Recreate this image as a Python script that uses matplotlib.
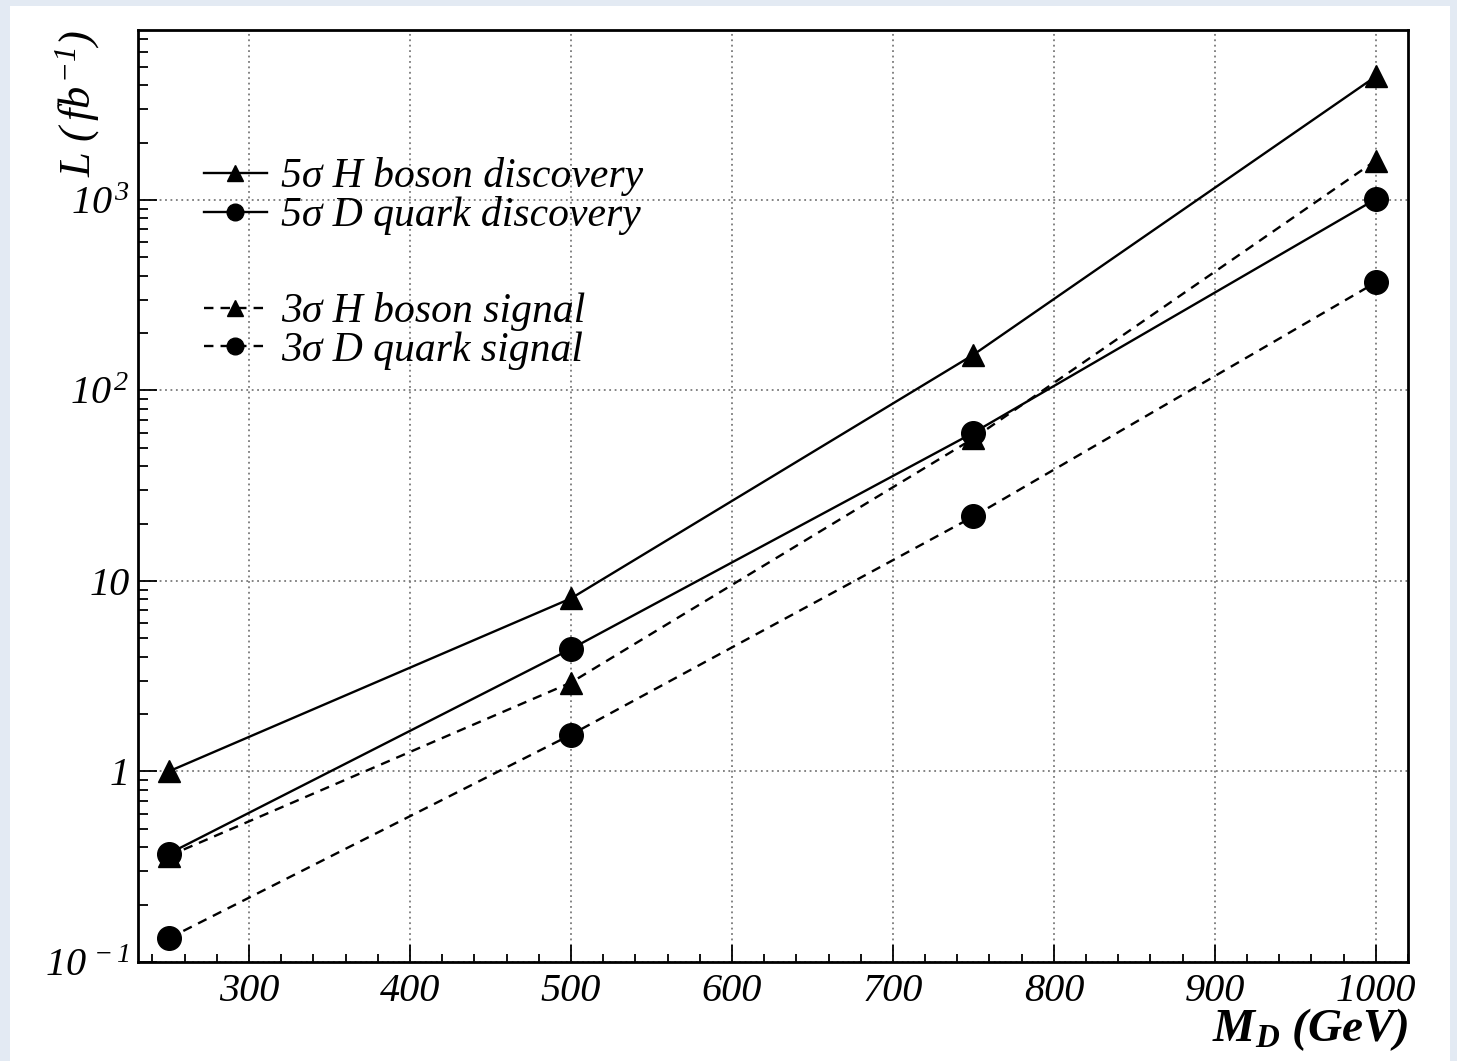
import matplotlib.pyplot as plt
from matplotlib.patches import Rectangle
from matplotlib.ticker import FixedLocator, MultipleLocator, LogLocator, NullFormatter

plt.rcParams['font.family'] = ['Liberation Serif', 'DejaVu Serif']
plt.rcParams['font.style'] = 'italic'
plt.rcParams['mathtext.fontset'] = 'custom'
plt.rcParams['mathtext.it'] = 'Liberation Serif:italic'
plt.rcParams['mathtext.rm'] = 'Liberation Serif:italic'
plt.rcParams['mathtext.bf'] = 'Liberation Serif:italic:bold'
plt.rcParams['mathtext.default'] = 'it'

# mass points (GeV) and required luminosity (fb^-1)
md = [250, 500, 750, 1000]
h5 = [1.0, 8.1, 154, 4450]
d5 = [0.37, 4.4, 60, 1010]
h3 = [0.36, 2.93, 56, 1610]
d3 = [0.133, 1.56, 21.8, 369]

xticks = [300, 400, 500, 600, 700, 800, 900, 1000]
yticks = [0.1, 1, 10, 100, 1000]
ylabels = [r'$10^{\,-1}$', '1', '10', r'$10^{\,2}$', r'$10^{\,3}$']

fig = plt.figure(figsize=(14.57, 10.61), dpi=100)
fig.patch.set_facecolor('#e3eaf3')
fig.patches.append(Rectangle((10 / 1457, 0), 1440 / 1457, 1055 / 1061,
                             transform=fig.transFigure, facecolor='white',
                             edgecolor='none', zorder=-10))

ax = fig.add_axes([138 / 1457, 1 - 962 / 1061, 1270 / 1457, 932 / 1061])
ax.set_zorder(5)
ax.set_yscale('log')
ax.set_xlim(231, 1020)
ax.set_ylim(0.1, 7800)

solid = dict(color='black', lw=1.7, ls='-')
dashed = dict(color='black', lw=1.7, ls=(0, (4, 3)))
l1, = ax.plot(md, h5, marker='^', ms=16, **solid)
l2, = ax.plot(md, d5, marker='o', ms=17, **solid)
l3, = ax.plot(md, h3, marker='^', ms=16, **dashed)
l4, = ax.plot(md, d3, marker='o', ms=17, **dashed)

ax.xaxis.set_major_locator(FixedLocator(xticks))
ax.xaxis.set_minor_locator(MultipleLocator(20))
ax.yaxis.set_major_locator(FixedLocator(yticks))
ax.yaxis.set_minor_locator(LogLocator(base=10, subs=range(2, 10), numticks=20))
ax.yaxis.set_minor_formatter(NullFormatter())
ax.set_xticklabels([str(t) for t in xticks])
ax.set_yticklabels(ylabels)

ax.tick_params(which='both', direction='in', top=False, right=False, labelsize=29, width=1.3)
ax.tick_params(axis='x', which='major', length=12, pad=8)
ax.tick_params(axis='x', which='minor', length=6)
ax.tick_params(axis='y', which='major', length=14, pad=6)
ax.tick_params(axis='y', which='minor', length=7)
for sp in ax.spines.values():
    sp.set_linewidth(2)

ax.grid(True, which='major', color='#7a7a7a', ls=(0, (1, 2)), lw=1.3)

leg_kw = dict(frameon=False, fontsize=30, handlelength=1.5, handletextpad=0.35,
              labelspacing=0.0, borderpad=0, borderaxespad=0)
leg1 = ax.legend([l1, l2], ['5σ H boson discovery', '5σ D quark discovery'],
                 loc='center left', bbox_to_anchor=(0.052, 0.8214), **leg_kw)
ax.add_artist(leg1)
ax.legend([l3, l4], ['3σ H boson signal', '3σ D quark signal'],
          loc='center left', bbox_to_anchor=(0.052, 0.677), **leg_kw)
for leg in ax.get_legend(), leg1:
    for h in leg.legend_handles:
        h.set_markersize(12)

fig.text(78 / 1457, 1 - 30 / 1061, r'$L\ (\,fb^{-1})$', rotation=90,
         ha='center', va='top', fontsize=32)
fig.text(1408 / 1457, 1 - 1030 / 1061, r'$\mathbf{M_D\ (GeV)}$', ha='right',
         va='center', fontsize=34)

fig.savefig('out.png', dpi=100)
